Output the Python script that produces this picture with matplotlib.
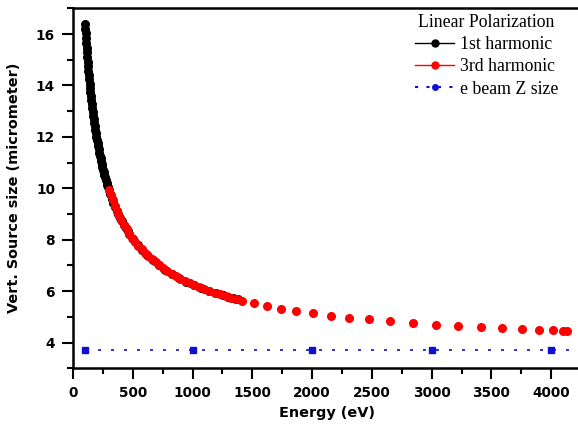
import matplotlib.pyplot as plt
from matplotlib.lines import Line2D
from matplotlib.ticker import MultipleLocator

# 1st harmonic: photon energy (eV) and vertical source size (micrometer)
e_first = [100, 102.5, 105, 107.6, 110.3, 113.1, 116, 119, 122, 125.1, 128.3, 131.6,
           135, 138.5, 142, 145.6, 149.3, 153.1, 157, 161, 165, 169.1, 173.3, 177.6,
           182, 186.5, 191, 195.6, 200.3, 205.1, 210, 215, 220, 225.1, 230.3, 235.6,
           241, 246.5, 252, 257.6, 263.3, 269.1, 275, 281, 287, 293.1, 299.3,
           312, 325, 338.3, 352, 366, 380.3, 395, 410, 425.3, 440.7, 456, 471.3,
           505, 541, 580.3, 622, 669.3, 719.7, 770, 825.7, 884.3, 948.3, 1012.7,
           1074, 1138, 1196.7, 1252.3, 1300, 1339, 1366.7, 1378]
size_first = [16.40, 16.21, 16.03, 15.84, 15.66, 15.47, 15.29, 15.11, 14.93, 14.76,
              14.58, 14.41, 14.24, 14.07, 13.91, 13.75, 13.59, 13.43, 13.28, 13.12,
              12.98, 12.83, 12.69, 12.55, 12.41, 12.27, 12.14, 12.01, 11.88, 11.75,
              11.63, 11.51, 11.39, 11.27, 11.16, 11.05, 10.94, 10.83, 10.72, 10.62,
              10.52, 10.42, 10.32, 10.22, 10.13, 10.04, 9.95,
              9.77, 9.60, 9.44, 9.29, 9.13, 8.99, 8.85, 8.72, 8.59, 8.46, 8.35, 8.24,
              8.02, 7.80, 7.59, 7.40, 7.20, 7.01, 6.84, 6.68, 6.52, 6.37, 6.24,
              6.12, 6.01, 5.92, 5.84, 5.77, 5.72, 5.69, 5.68]

# 3rd harmonic
e_third = [300, 315, 331, 348, 366, 385, 405, 426, 448, 471, 495, 520, 546, 573,
           601, 630, 660, 691, 723, 756, 790, 825, 861, 898, 936, 975, 1015, 1056,
           1098, 1141, 1185, 1230, 1276, 1322, 1368, 1414, 1515, 1623, 1741, 1866,
           2008, 2159, 2310, 2477, 2653, 2845, 3038, 3222, 3414, 3590, 3757, 3900,
           4017, 4100, 4134]
size_third = [9.94, 9.73, 9.53, 9.33, 9.13, 8.94, 8.76, 8.58, 8.41, 8.24, 8.08, 7.92,
              7.77, 7.63, 7.49, 7.36, 7.24, 7.12, 7.00, 6.89, 6.78, 6.68, 6.58, 6.49,
              6.40, 6.31, 6.23, 6.15, 6.08, 6.01, 5.94, 5.87, 5.81, 5.74, 5.69, 5.63,
              5.53, 5.42, 5.32, 5.23, 5.14, 5.05, 4.97, 4.90, 4.83, 4.76, 4.70, 4.65,
              4.60, 4.56, 4.53, 4.50, 4.48, 4.46, 4.46]

# electron beam vertical size
e_beam = [100, 1000, 2000, 3000, 4000, 5000]
size_beam = [3.7, 3.7, 3.7, 3.7, 3.7, 3.7]

blue = '#1010d0'
dash = (0, (1.8, 6.0))

fig = plt.figure(figsize=(5.78, 4.28), dpi=100)
ax = fig.add_axes([0.1263, 0.1395, 0.879, 0.8411])

ax.plot(e_beam, size_beam, color=blue, lw=1.2, linestyle=dash,
        marker='s', ms=3.8)
ax.plot(e_first, size_first, 'o', color='black', ms=5.5, zorder=3)
ax.plot(e_third, size_third, 'o', color='red', ms=5.5, zorder=4)

ax.set_xlim(0, 4250)
ax.set_ylim(3, 17)
ax.xaxis.set_major_locator(MultipleLocator(500))
ax.xaxis.set_minor_locator(MultipleLocator(250))
ax.yaxis.set_major_locator(MultipleLocator(2))
ax.yaxis.set_minor_locator(MultipleLocator(1))

for s in ax.spines.values():
    s.set_linewidth(1.8)
ax.spines['right'].set_visible(False)
ax.tick_params(axis='both', which='both', direction='out', width=1.5)
ax.tick_params(axis='both', which='major', length=8, pad=5)
ax.tick_params(axis='both', which='minor', length=4)

sans = 'DejaVu Sans'
for lab in ax.get_xticklabels() + ax.get_yticklabels():
    lab.set_fontfamily(sans)
    lab.set_fontweight('bold')
    lab.set_fontsize(9.8)
ax.set_xlabel('Energy (eV)', fontfamily=sans, fontweight='bold', fontsize=10.4)
ax.set_ylabel('Vert. Source size (micrometer)', fontfamily=sans,
              fontweight='bold', fontsize=10.4)
ax.yaxis.set_label_coords(-0.103, 0.5)
ax.xaxis.set_label_coords(0.5, -0.105)

handles = [
    Line2D([], [], color='black', lw=1, marker='o', ms=5),
    Line2D([], [], color='red', lw=1, marker='o', ms=5),
    Line2D([], [], color=blue, lw=1.5, linestyle=(0, (1.5, 4)), marker='o', ms=4),
]
leg = ax.legend(handles, ['1st harmonic', '3rd harmonic', 'e beam Z size'],
                title='Linear Polarization', loc='upper right',
                bbox_to_anchor=(0.972, 1.01), frameon=False,
                prop={'family': 'Liberation Serif', 'size': 12.8},
                handlelength=2.2, handletextpad=0.3, labelspacing=0.3,
                borderaxespad=0.1)
leg.get_title().set_fontfamily('Liberation Serif')
leg.get_title().set_fontsize(12.8)

fig.savefig('out.png', dpi=100)
